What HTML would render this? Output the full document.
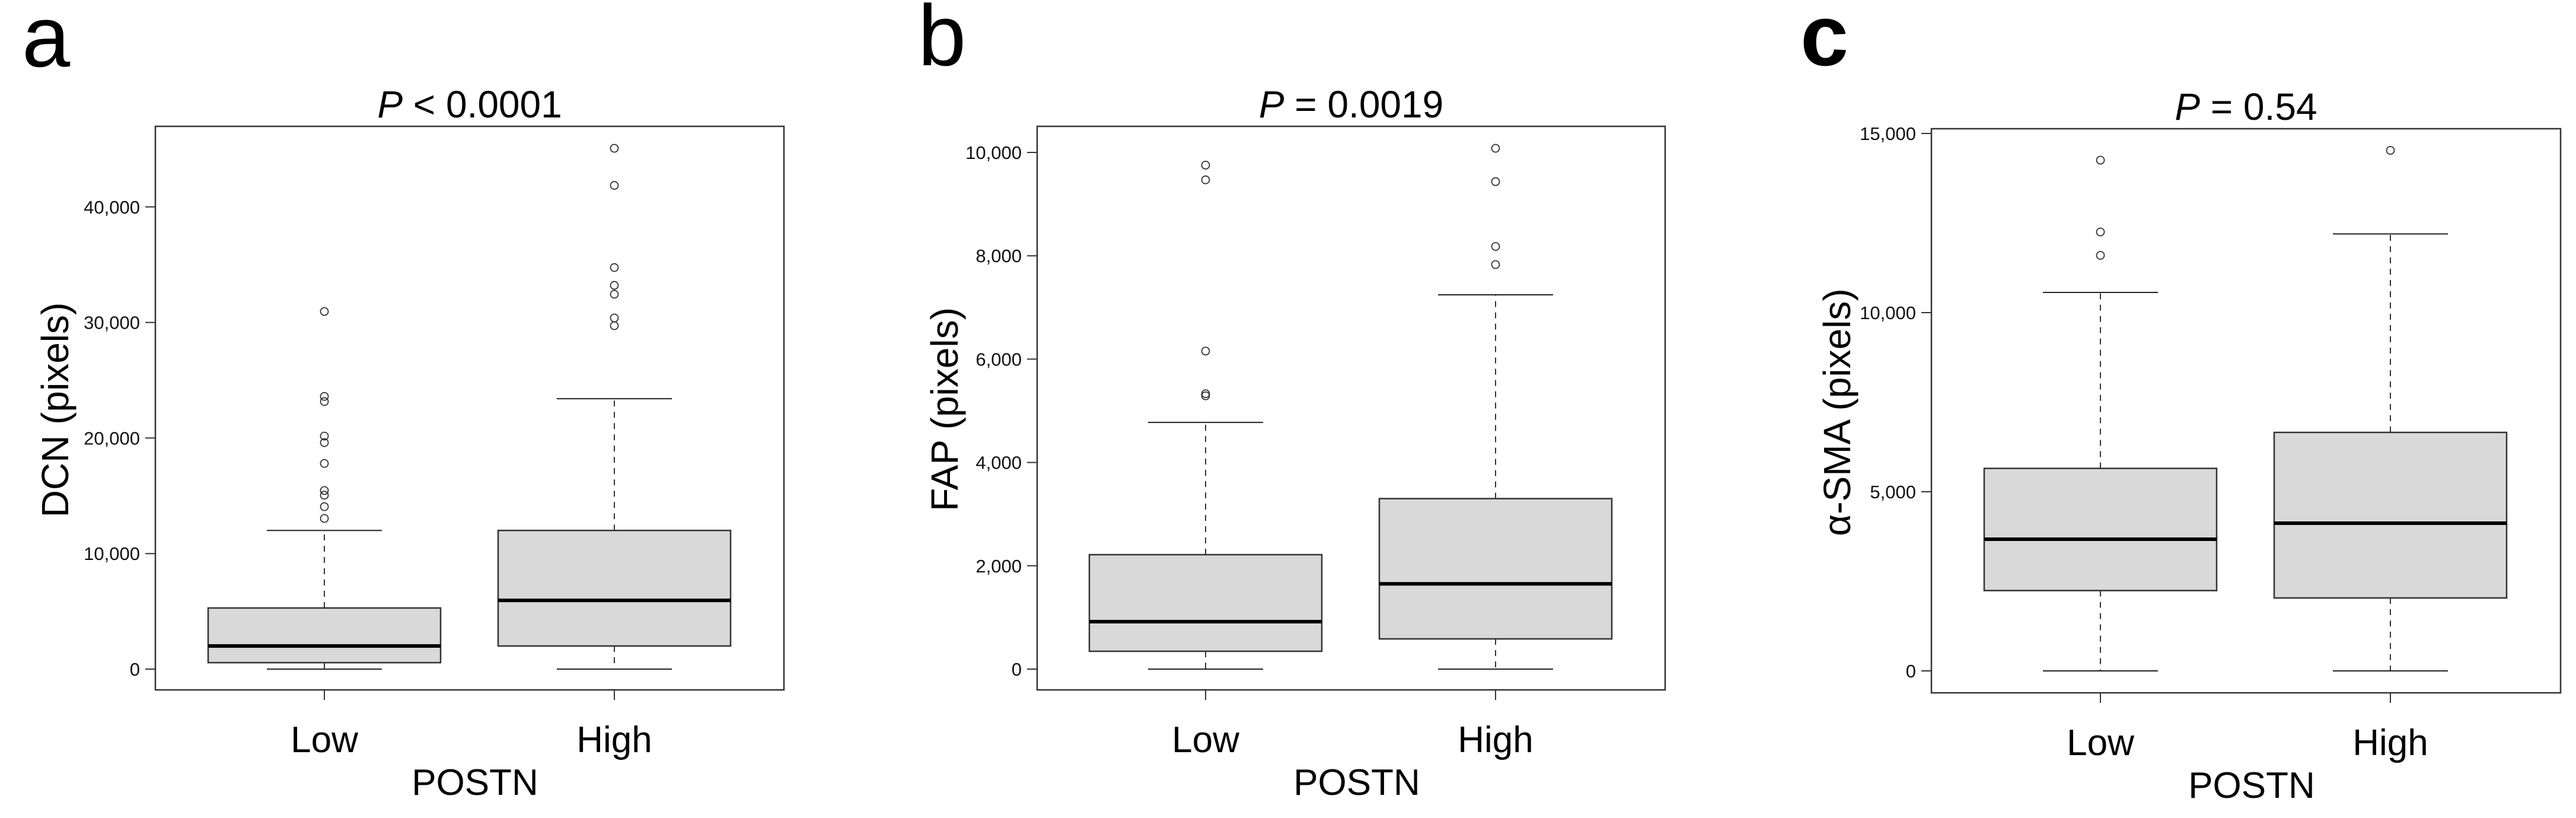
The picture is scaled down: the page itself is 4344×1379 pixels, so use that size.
<!DOCTYPE html>
<html><head><meta charset="utf-8">
<style>
html,body{margin:0;padding:0;background:#fff;}
svg{display:block;font-family:"Liberation Sans",Arial,sans-serif;}
</style></head>
<body>
<svg id="fig" width="4344" height="1379" viewBox="0 0 4344 1379" xmlns="http://www.w3.org/2000/svg">
<rect x="0" y="0" width="4344" height="1379" fill="#fff"/>
</svg>
<script>
const groups = ["Low", "High"];
// Panel a: DCN
const aTicks = [0, 10000, 20000, 30000, 40000];
const aTickLabels = ["0", "10,000", "20,000", "30,000", "40,000"];
const aQ1 = [560, 2000];
const aMedian = [2000, 5950];
const aQ3 = [5290, 12000];
const aWhiskerLow = [0, 0];
const aWhiskerHigh = [12000, 23400];
const aOutliersLow = [30950, 23600, 23150, 20170, 19600, 17800, 15460, 15050, 14060, 13040];
const aOutliersHigh = [45070, 41860, 34750, 33210, 32440, 30390, 29720];
// Panel b: FAP
const bTicks = [0, 2000, 4000, 6000, 8000, 10000];
const bTickLabels = ["0", "2,000", "4,000", "6,000", "8,000", "10,000"];
const bQ1 = [345, 585];
const bMedian = [918, 1650];
const bQ3 = [2215, 3300];
const bWhiskerLow = [0, 0];
const bWhiskerHigh = [4775, 7245];
const bOutliersLow = [9755, 9470, 6155, 5330, 5290];
const bOutliersHigh = [10080, 9435, 8180, 7830];
// Panel c: alpha-SMA
const cTicks = [0, 5000, 10000, 15000];
const cTickLabels = ["0", "5,000", "10,000", "15,000"];
const cQ1 = [2242, 2036];
const cMedian = [3675, 4123];
const cQ3 = [5652, 6656];
const cWhiskerLow = [0, 0];
const cWhiskerHigh = [10563, 12195];
const cOutliersLow = [14255, 12252, 11598];
const cOutliersHigh = [14528];

const NS = "http://www.w3.org/2000/svg";
const svg = document.getElementById("fig");
function mk(tag, attrs, parent, text) {
  const e = document.createElementNS(NS, tag);
  for (const k in attrs) e.setAttribute(k, attrs[k]);
  if (text !== undefined) e.textContent = text;
  (parent || svg).appendChild(e);
  return e;
}

function panel(cfg) {
  const g = mk("g", {});
  
  
  const yScale = v => cfg.y0 - (v - cfg.v0) * cfg.pxPerUnit;
  const xScale = i => cfg.centers[i];
  // letter
  const L = mk("text", {x: cfg.letterX, y: cfg.letterY, "font-size": 146, fill: "#000", "font-weight": cfg.letterBold ? "bold" : "normal"}, g, cfg.letter);
  
  
  // title
  const T = mk("text", {x: (cfg.left + cfg.right) / 2, y: cfg.titleY, "font-size": 64, "text-anchor": "middle", fill: "#000"}, g);
  
  
  mk("tspan", {"font-style": "italic"}, T, "P");
  mk("tspan", {}, T, cfg.titleRest);
  // frame
  const F = mk("rect", {x: cfg.left, y: cfg.top, width: cfg.right - cfg.left, height: cfg.bottom - cfg.top, fill: "none", stroke: "#333", "stroke-width": 2.5}, g);
  
  
  // y ticks
  cfg.ticks.forEach((t, i) => {
    const y = yScale(t);
    const tl = mk("line", {x1: cfg.left - 17, x2: cfg.left, y1: y, y2: y, stroke: "#333", "stroke-width": 2}, g);
    
    
    const lb = mk("text", {x: cfg.left - 26, y: y + 11, "font-size": 31, "text-anchor": "end", fill: "#111"}, g, cfg.tickLabels[i]);
    
    
  });
  // y label
  const yl = mk("text", {x: 0, y: 0, "font-size": 64, "text-anchor": "middle", fill: "#000", transform: `translate(${cfg.ylabelX},${cfg.ylabelY}) rotate(-90)`}, g, cfg.ylabel);
  
  
  // x ticks & labels
  groups.forEach((grp, i) => {
    const x = xScale(i);
    const xt = mk("line", {x1: x, x2: x, y1: cfg.bottom, y2: cfg.bottom + 17, stroke: "#333", "stroke-width": 2}, g);
    
    
    const xl = mk("text", {x: x, y: cfg.bottom + 105, "font-size": 62, "text-anchor": "middle", fill: "#000"}, g, grp);
    
    
  });
  const xt = mk("text", {x: cfg.postnX, y: cfg.bottom + 177, "font-size": 62, "text-anchor": "middle", fill: "#000"}, g, "POSTN");
  
  
  // boxes
  const half = 196, capHalf = 97;
  groups.forEach((grp, i) => {
    const x = xScale(i);
    const bg = mk("g", {}, g);
    
    
    const yq1 = yScale(cfg.q1[i]), yq3 = yScale(cfg.q3[i]);
    const ywl = yScale(cfg.wl[i]), ywh = yScale(cfg.wh[i]);
    const w1 = mk("line", {x1: x, x2: x, y1: yq3, y2: ywh, stroke: "#333", "stroke-width": 2, "stroke-dasharray": "10 9"}, bg);
    
    
    const w2 = mk("line", {x1: x, x2: x, y1: yq1, y2: ywl, stroke: "#333", "stroke-width": 2, "stroke-dasharray": "10 9"}, bg);
    
    
    const c1 = mk("line", {x1: x - capHalf, x2: x + capHalf, y1: ywh, y2: ywh, stroke: "#222", "stroke-width": 2}, bg);
    
    
    const c2 = mk("line", {x1: x - capHalf, x2: x + capHalf, y1: ywl, y2: ywl, stroke: "#222", "stroke-width": 2}, bg);
    
    
    const r = mk("rect", {x: x - half, y: yq3, width: half * 2, height: yq1 - yq3, fill: "#d9d9d9", stroke: "#333", "stroke-width": 2.5}, bg);
    
    
    const ym = yScale(cfg.med[i]);
    const m = mk("line", {x1: x - half, x2: x + half, y1: ym, y2: ym, stroke: "#000", "stroke-width": 6}, bg);
    
    
    const outs = i === 0 ? cfg.outLow : cfg.outHigh;
    outs.forEach(v => {
      const o = mk("circle", {cx: x, cy: yScale(v), r: 6.5, fill: "none", stroke: "#333", "stroke-width": 1.8}, bg);
      
      
    });
  });
}

panel({name: "panel-a-dcn", letter: "a", letterX: 37, letterY: 112, letterBold: false,
  left: 262, right: 1322, top: 213, bottom: 1163, y0: 1128, v0: 0, pxPerUnit: 194.8 / 10000,
  centers: [547, 1036], titleY: 198, titleRest: " < 0.0001",
  ticks: aTicks, tickLabels: aTickLabels, ylabel: "DCN (pixels)", ylabelX: 115, ylabelY: 691, postnX: 801,
  q1: aQ1, med: aMedian, q3: aQ3, wl: aWhiskerLow, wh: aWhiskerHigh, outLow: aOutliersLow, outHigh: aOutliersHigh});

panel({name: "panel-b-fap", letter: "b", letterX: 1548, letterY: 110, letterBold: false,
  left: 1749, right: 2808, top: 213, bottom: 1163, y0: 1128, v0: 0, pxPerUnit: 871 / 10000,
  centers: [2033, 2522], titleY: 198, titleRest: " = 0.0019",
  ticks: bTicks, tickLabels: bTickLabels, ylabel: "FAP (pixels)", ylabelX: 1615, ylabelY: 690, postnX: 2288,
  q1: bQ1, med: bMedian, q3: bQ3, wl: bWhiskerLow, wh: bWhiskerHigh, outLow: bOutliersLow, outHigh: bOutliersHigh});

panel({name: "panel-c-asma", letter: "c", letterX: 3036, letterY: 110, letterBold: true,
  left: 3257, right: 4318, top: 217, bottom: 1168, y0: 1131, v0: 0, pxPerUnit: 906 / 15000,
  centers: [3542, 4031], titleY: 202, titleRest: " = 0.54",
  ticks: cTicks, tickLabels: cTickLabels, ylabel: "\u03B1-SMA (pixels)", ylabelX: 3120, ylabelY: 695, postnX: 3797,
  q1: cQ1, med: cMedian, q3: cQ3, wl: cWhiskerLow, wh: cWhiskerHigh, outLow: cOutliersLow, outHigh: cOutliersHigh});
</script>
</body></html>
